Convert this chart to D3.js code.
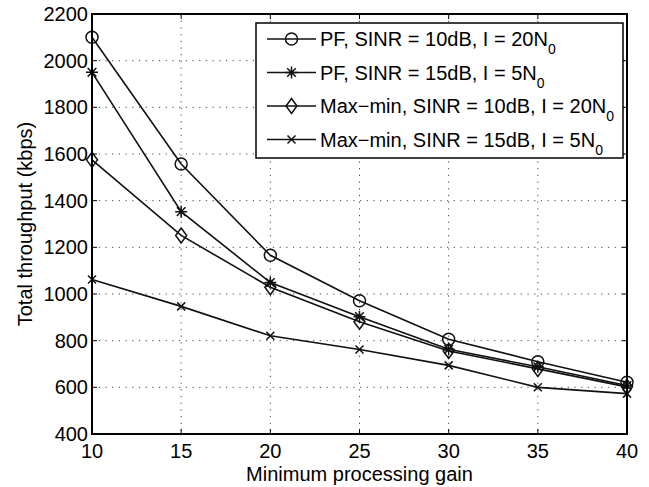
<!DOCTYPE html>
<html>
<head>
<meta charset="utf-8">
<script src="https://cdn.jsdelivr.net/npm/d3@7"></script>
<style>
  body { margin: 0; background: #fff; }
  svg { display: block; font-family: "Liberation Sans", Arial, sans-serif; }
</style>
</head>
<body>
<svg id="chart" width="649" height="487"></svg>
<script>
"use strict";

const gains = [10, 15, 20, 25, 30, 35, 40];
const pf10 = [2100, 1557, 1166, 971, 806, 710, 622];
const pf15 = [1950, 1353, 1049, 903, 763, 688, 608];
const mm10 = [1575, 1251, 1029, 881, 756, 679, 602];
const mm15 = [1062, 947, 821, 762, 694, 600, 573];
const xTicks = [10, 15, 20, 25, 30, 35, 40];
const yTicks = [400, 600, 800, 1000, 1200, 1400, 1600, 1800, 2000, 2200];

const seriesList = [
  { name: "PF, SINR = 10dB, I = 20N", values: pf10, marker: "circle" },
  { name: "PF, SINR = 15dB, I = 5N", values: pf15, marker: "star" },
  { name: "Max\u2212min, SINR = 10dB, I = 20N", values: mm10, marker: "diamond" },
  { name: "Max\u2212min, SINR = 15dB, I = 5N", values: mm15, marker: "cross" },
];

const svg = d3.select("#chart");
const plotL = 92, plotR = 627, plotT = 14, plotB = 434;

const x = d3.scaleLinear().domain([10, 40]).range([plotL, plotR]);
const y = d3.scaleLinear().domain([400, 2200]).range([plotB, plotT]);

// grid
const grid = svg.append("g")
  .attr("stroke", "#444")
  .attr("stroke-width", 1)
  .attr("stroke-dasharray", "1.2,5.5");
grid.selectAll("line.gx")
  .data(xTicks.slice(1, -1))
  .enter().append("line")
  .attr("x1", (d) => x(d)).attr("x2", (d) => x(d))
  .attr("y1", plotT).attr("y2", plotB);
grid.selectAll("line.gy")
  .data(yTicks.slice(1, -1))
  .enter().append("line")
  .attr("y1", (d) => y(d)).attr("y2", (d) => y(d))
  .attr("x1", plotL).attr("x2", plotR);

// ticks inside, all four sides
const tickLen = 5;
const ticks = svg.append("g").attr("stroke", "#000").attr("stroke-width", 1);
xTicks.forEach((t) => {
  ticks.append("line").attr("x1", x(t)).attr("x2", x(t)).attr("y1", plotB).attr("y2", plotB - tickLen);
  ticks.append("line").attr("x1", x(t)).attr("x2", x(t)).attr("y1", plotT).attr("y2", plotT + tickLen);
});
yTicks.forEach((t) => {
  ticks.append("line").attr("y1", y(t)).attr("y2", y(t)).attr("x1", plotL).attr("x2", plotL + tickLen);
  ticks.append("line").attr("y1", y(t)).attr("y2", y(t)).attr("x1", plotR).attr("x2", plotR - tickLen);
});

// lines
const line = d3.line()
  .x((d, i) => x(gains[i]))
  .y((d) => y(d));

seriesList.forEach((s) => {
  svg.append("path")
    .datum(s.values)
    .attr("fill", "none")
    .attr("stroke", "#111")
    .attr("stroke-width", 1.6)
    .attr("d", line);
});

function drawMarker(g, type, cx, cy) {
  const m = g.append("g")
    .attr("transform", `translate(${cx},${cy})`)
    .attr("fill", "none")
    .attr("stroke", "#111")
    .attr("stroke-width", 1.5);
  if (type === "circle") {
    m.append("circle").attr("r", 6);
  } else if (type === "diamond") {
    m.append("path").attr("d", "M0,-7.5L5.5,0L0,7.5L-5.5,0Z");
  } else if (type === "star") {
    m.append("path").attr("d", "M-6,0H6M0,-6V6M-4.3,-4.3L4.3,4.3M-4.3,4.3L4.3,-4.3");
  } else if (type === "cross") {
    m.append("path").attr("d", "M-4,-4L4,4M-4,4L4,-4");
  }
}

const markers = svg.append("g");
seriesList.forEach((s) => {
  s.values.forEach((v, i) => drawMarker(markers, s.marker, x(gains[i]), y(v)));
});

// axes box
svg.append("rect")
  .attr("x", plotL).attr("y", plotT)
  .attr("width", plotR - plotL).attr("height", plotB - plotT)
  .attr("fill", "none").attr("stroke", "#000").attr("stroke-width", 2);

// tick labels
svg.append("g").selectAll("text")
  .data(xTicks)
  .enter().append("text")
  .attr("x", (d) => x(d))
  .attr("y", plotB + 24)
  .attr("text-anchor", "middle")
  .attr("font-size", 20)
  .text((d) => d);

svg.append("g").selectAll("text")
  .data(yTicks)
  .enter().append("text")
  .attr("x", plotL - 4)
  .attr("y", (d) => y(d) + 7)
  .attr("text-anchor", "end")
  .attr("font-size", 20)
  .text((d) => d);

// axis titles
svg.append("text")
  .attr("x", (plotL + plotR) / 2)
  .attr("y", 481)
  .attr("text-anchor", "middle")
  .attr("font-size", 20)
  .text("Minimum processing gain");

svg.append("text")
  .attr("transform", `translate(32,${(plotT + plotB) / 2}) rotate(-90)`)
  .attr("text-anchor", "middle")
  .attr("font-size", 20)
  .text("Total throughput (kbps)");

// legend
const legend = svg.append("g");
legend.append("rect")
  .attr("x", 256).attr("y", 23)
  .attr("width", 367).attr("height", 135)
  .attr("fill", "#fff").attr("stroke", "#000").attr("stroke-width", 1.5);

seriesList.forEach((s, i) => {
  const ly = 39 + i * 33.5;
  legend.append("line")
    .attr("x1", 267).attr("x2", 316)
    .attr("y1", ly).attr("y2", ly)
    .attr("stroke", "#111").attr("stroke-width", 1.6);
  drawMarker(legend, s.marker, 291.5, ly);
  const t = legend.append("text")
    .attr("x", 320).attr("y", ly + 7)
    .attr("font-size", 20)
    .text(s.name);
  t.append("tspan")
    .attr("font-size", 14)
    .attr("dy", 8)
    .text("0");
});
</script>
</body>
</html>
